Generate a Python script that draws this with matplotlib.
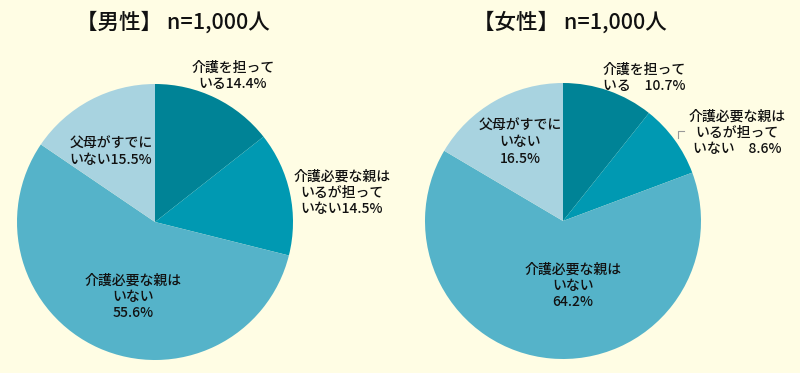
import matplotlib.pyplot as plt
from matplotlib.lines import Line2D

plt.rcParams['font.family'] = ['Noto Sans CJK JP', 'DejaVu Sans']

# data
titles = ["【男性】 n=1,000人", "【女性】 n=1,000人"]
male_values = [14.4, 14.5, 55.6, 15.5]
female_values = [10.7, 8.6, 64.2, 16.5]
male_labels = ["介護を担って\nいる14.4%",
               "介護必要な親は\nいるが担って\nいない14.5%",
               "介護必要な親は\nいない\n55.6%",
               "父母がすでに\nいない15.5%"]
female_labels = ["介護を担って\nいる　10.7%",
                 "介護必要な親は\nいるが担って\nいない　8.6%",
                 "介護必要な親は\nいない\n64.2%",
                 "父母がすでに\nいない\n16.5%"]

colors = ["#008396", "#0099B2", "#55B3C9", "#A8D3E0"]
bg = "#FFFDE4"

# label positions relative to pie (radius = 1)
male_pos = [(0.565, 1.06), (1.355, 0.21), (-0.16, -0.54), (-0.32, 0.51)]
female_pos = [(0.587, 1.04), (1.26, 0.64), (0.07, -0.47), (-0.31, 0.57)]

W, H = 800, 373
R = 138
fig = plt.figure(figsize=(W / 100, H / 100), dpi=100)
fig.patch.set_facecolor(bg)


def draw_pie(cx, cy, values, labels, pos, title, title_x):
    ax = fig.add_axes([(cx - R) / W, (H - cy - R) / H, 2 * R / W, 2 * R / H])
    ax.set_facecolor(bg)
    ax.pie(values, colors=colors, startangle=90, counterclock=False,
           wedgeprops=dict(linewidth=0))
    ax.set_xlim(-1, 1)
    ax.set_ylim(-1, 1)
    ax.axis('off')
    for lab, (x, y) in zip(labels, pos):
        ax.text(x, y, lab, ha='center', va='center', fontsize=10,
                fontweight='medium', linespacing=1.2, color='#111111',
                clip_on=False)
    fig.text(title_x / W, 1 - 23 / H, title, ha='center', va='center',
             fontsize=15.5, fontweight='medium', color='#111111')
    return ax


ax1 = draw_pie(155, 222, male_values, male_labels, male_pos, titles[0], 173)
ax2 = draw_pie(563, 221, female_values, female_labels, female_pos, titles[1], 570)

# small leader mark next to the 8.6% label
ax2.add_line(Line2D([0.83, 0.83, 0.88], [0.60, 0.65, 0.65], color='#999999',
                    linewidth=0.8, clip_on=False))

fig.savefig("out.png", dpi=100, facecolor=bg)
